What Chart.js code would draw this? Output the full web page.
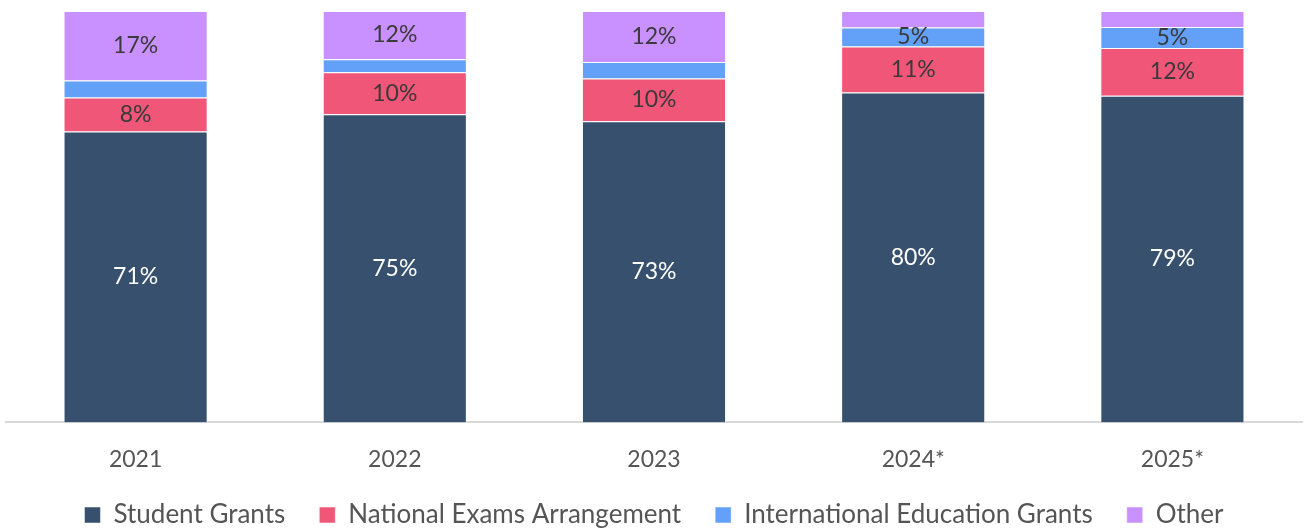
<!DOCTYPE html>
<html lang="en">
<head>
    <meta charset="UTF-8">
    <title>Funding Breakdown</title>
    <style>
        body { margin: 0; background: #fff; overflow: hidden; }
        .wrap { width: 1305px; height: 538px; }
    </style>
</head>
<body>
    <div class="wrap"><canvas id="chart"></canvas></div>
    <script src="https://cdn.jsdelivr.net/npm/chart.js"></script>
    <script>
        const years = ['2021', '2022', '2023', '2024*', '2025*'];
        const studentGrants = [70.7, 74.9, 73.2, 80.2, 79.4];
        const nationalExams = [8.3, 10.2, 10.4, 11.2, 11.6];
        const internationalGrants = [4.1, 3.2, 4.0, 4.6, 5.1];
        const other = [16.9, 11.7, 12.4, 4.0, 3.9];

        const FONT = 'Lato, "Open Sans", sans-serif';

        // simple value labels in the middle of each segment (hidden under 5%)
        const segmentLabels = {
            id: 'segmentLabels',
            afterDatasetsDraw(chart) {
                const ctx = chart.ctx;
                ctx.save();
                ctx.font = '23px ' + FONT;
                ctx.textAlign = 'center';
                ctx.textBaseline = 'middle';
                chart.data.datasets.forEach((ds, i) => {
                    chart.getDatasetMeta(i).data.forEach((bar, j) => {
                        const v = Math.round(ds.data[j]);
                        if (v < 5) return;
                        ctx.fillStyle = i === 0 ? '#ffffff' : '#3a3a3a';
                        ctx.fillText(v + '%', bar.x, (bar.y + bar.base) / 2);
                    });
                });
                ctx.restore();
            }
        };

        const common = { borderWidth: 1, borderColor: 'rgba(255,255,255,0.5)', barPercentage: 0.556, categoryPercentage: 1 };

        new Chart(document.getElementById('chart'), {
            type: 'bar',
            data: {
                labels: years,
                datasets: [
                    { label: 'Student Grants', data: studentGrants, backgroundColor: '#37506d', ...common },
                    { label: 'National Exams Arrangement', data: nationalExams, backgroundColor: '#f05678', ...common },
                    { label: 'International Education Grants', data: internationalGrants, backgroundColor: '#63a0f8', ...common },
                    { label: 'Other', data: other, backgroundColor: '#c990ff', ...common },
                ],
            },
            options: {
                responsive: true,
                maintainAspectRatio: false,
                animation: false,
                layout: { padding: { top: 11, left: 6, right: 3, bottom: 0 } },
                plugins: {
                    legend: {
                        position: 'bottom',
                        labels: {
                            font: { family: FONT, size: 26 },
                            color: '#555',
                            boxWidth: 16,
                            boxHeight: 16,
                            padding: 34,
                        },
                    },
                    tooltip: { enabled: false },
                },
                scales: {
                    x: {
                        stacked: true,
                        grid: { display: false },
                        border: { color: '#d9d9d9', width: 2 },
                        ticks: { font: { family: FONT, size: 23 }, color: '#555', padding: 15 },
                        // pull the legend closer to the tick labels
                        afterFit: (scale) => { scale.height -= 20; },
                    },
                    y: {
                        stacked: true,
                        display: false,
                        min: 0,
                        max: 100,
                    },
                },
            },
            plugins: [segmentLabels],
        });
    </script>
</body>
</html>
